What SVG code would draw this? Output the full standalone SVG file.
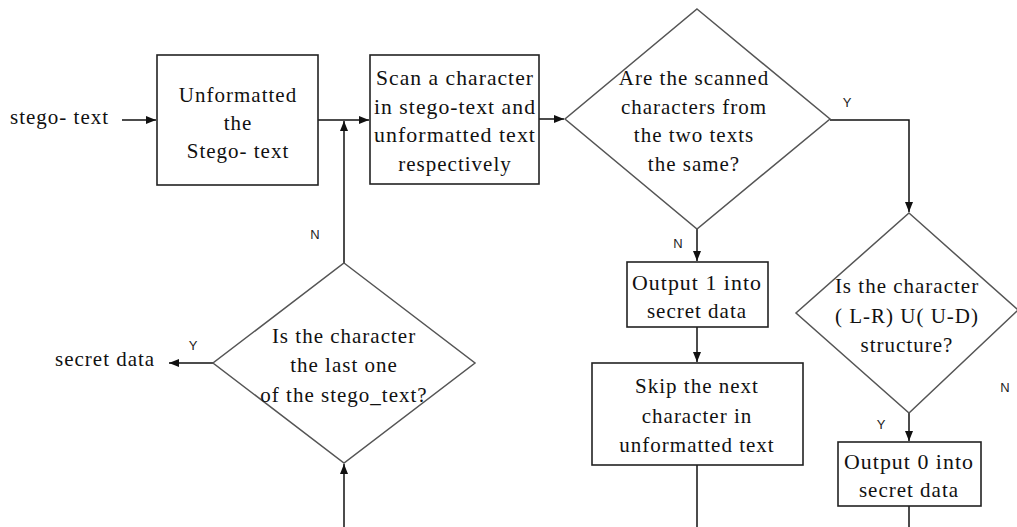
<svg xmlns="http://www.w3.org/2000/svg" width="1017" height="527" viewBox="0 0 1017 527">
<style>
.box{fill:#fff;stroke:#222;stroke-width:1.6}
.dia{fill:#fff;stroke:#555;stroke-width:1.5}
.t{font-family:'Liberation Serif','DejaVu Serif','Times New Roman',serif;font-size:21px;fill:#111;text-anchor:middle;letter-spacing:1px}
.tl{font-family:'Liberation Serif','DejaVu Serif','Times New Roman',serif;font-size:21px;fill:#111;letter-spacing:1px}
.lab{font-family:'Liberation Sans',sans-serif;font-size:13px;fill:#222;text-anchor:middle}
.c{fill:none;stroke:#111;stroke-width:1.5}
</style>
<defs>
<marker id="ah" viewBox="0 0 10 10" refX="10" refY="5" markerWidth="10" markerHeight="10" markerUnits="userSpaceOnUse" orient="auto">
<path d="M0,1 L10,5 L0,9 z" fill="#111"/>
</marker>
</defs>
<g id="connectors">
<line class="c" x1="122" y1="120" x2="156" y2="120" marker-end="url(#ah)"/>
<line class="c" x1="318" y1="120" x2="369" y2="120" marker-end="url(#ah)"/>
<line class="c" x1="344" y1="263" x2="344" y2="121" marker-end="url(#ah)"/>
<line class="c" x1="539" y1="119" x2="564" y2="119" marker-end="url(#ah)"/>
<polyline class="c" points="830,120 909,120 909,212" marker-end="url(#ah)"/>
<line class="c" x1="697" y1="229" x2="697" y2="261" marker-end="url(#ah)"/>
<line class="c" x1="697" y1="327" x2="697" y2="362" marker-end="url(#ah)"/>
<line class="c" x1="697" y1="465" x2="697" y2="527"/>
<line class="c" x1="909" y1="413" x2="909" y2="441" marker-end="url(#ah)"/>
<line class="c" x1="909" y1="506" x2="909" y2="527"/>
<line class="c" x1="344" y1="527" x2="344" y2="464" marker-end="url(#ah)"/>
<line class="c" x1="213" y1="363" x2="169" y2="363" stroke="#555" stroke-width="2.5" marker-end="url(#ah)"/>
<text class="lab" x="847" y="107">Y</text>
<text class="lab" x="315" y="239">N</text>
<text class="lab" x="678" y="248">N</text>
<text class="lab" x="881" y="429">Y</text>
<text class="lab" x="1005" y="392">N</text>
<text class="lab" x="193" y="350">Y</text>
</g>
<g id="start">
<text class="tl" x="10" y="124">stego- text</text>
</g>
<g id="unformat">
<rect class="box" x="157" y="55" width="161" height="130"/>
<text class="t" x="238" y="102">Unformatted</text>
<text class="t" x="238" y="130">the</text>
<text class="t" x="238" y="158">Stego- text</text>
</g>
<g id="scan">
<rect class="box" x="370" y="55" width="169" height="129"/>
<text class="t" x="455" y="85" textLength="158" lengthAdjust="spacingAndGlyphs">Scan a character</text>
<text class="t" x="455" y="114" textLength="162" lengthAdjust="spacingAndGlyphs">in stego-text and</text>
<text class="t" x="455" y="142" textLength="162" lengthAdjust="spacingAndGlyphs">unformatted text</text>
<text class="t" x="455" y="171">respectively</text>
</g>
<g id="same">
<polygon class="dia" points="697,9 830,119 697,229 565,119"/>
<text class="t" x="694" y="85">Are the scanned</text>
<text class="t" x="694" y="114">characters from</text>
<text class="t" x="694" y="142">the two texts</text>
<text class="t" x="694" y="171">the same?</text>
</g>
<g id="out1">
<rect class="box" x="627" y="262" width="141" height="65"/>
<text class="t" x="697" y="290" textLength="130" lengthAdjust="spacingAndGlyphs">Output 1 into</text>
<text class="t" x="697" y="318">secret data</text>
</g>
<g id="skip">
<rect class="box" x="592" y="363" width="211" height="102"/>
<text class="t" x="697" y="393">Skip the next</text>
<text class="t" x="697" y="423">character in</text>
<text class="t" x="697" y="452">unformatted text</text>
</g>
<g id="struct">
<polygon class="dia" points="909,213 1018,310 909,413 796,313"/>
<text class="t" x="907" y="293">Is the character</text>
<text class="t" x="907" y="323">( L-R) U( U-D)</text>
<text class="t" x="907" y="352">structure?</text>
</g>
<g id="out0">
<rect class="box" x="838" y="442" width="143" height="64"/>
<text class="t" x="909" y="469" textLength="130" lengthAdjust="spacingAndGlyphs">Output 0 into</text>
<text class="t" x="909" y="497">secret data</text>
</g>
<g id="last">
<polygon class="dia" points="344,263 475,363 344,463 213,363"/>
<text class="t" x="344" y="343">Is the character</text>
<text class="t" x="344" y="372">the last one</text>
<text class="t" x="344" y="402">of the stego_text?</text>
</g>
<g id="end">
<text class="tl" x="55" y="366">secret data</text>
</g>
</svg>
